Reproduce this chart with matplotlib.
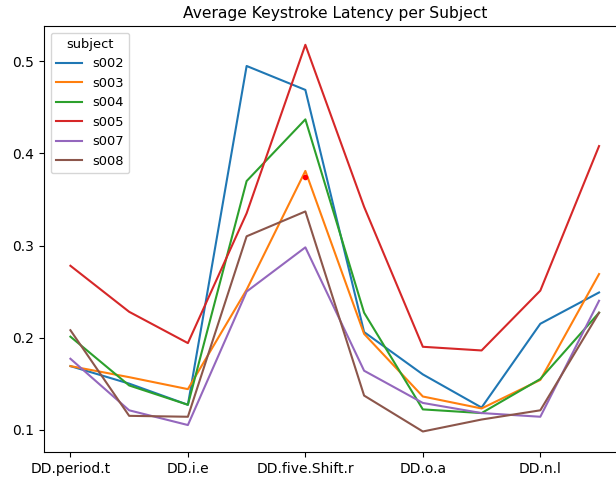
import matplotlib
matplotlib.use("Agg")
import matplotlib.pyplot as plt

features = ["DD.period.t", "DD.t.i", "DD.i.e", "DD.e.five", "DD.five.Shift.r",
            "DD.Shift.r.o", "DD.o.a", "DD.a.n", "DD.n.l", "DD.l.Return"]
tick_labels = ["DD.period.t", "DD.i.e", "DD.five.Shift.r", "DD.o.a", "DD.n.l"]

s002 = [0.169, 0.150, 0.127, 0.495, 0.469, 0.206, 0.160, 0.124, 0.215, 0.249]
s003 = [0.169, 0.157, 0.144, 0.252, 0.381, 0.204, 0.136, 0.123, 0.154, 0.269]
s004 = [0.201, 0.148, 0.127, 0.370, 0.437, 0.227, 0.122, 0.118, 0.155, 0.227]
s005 = [0.278, 0.228, 0.194, 0.335, 0.518, 0.342, 0.190, 0.186, 0.251, 0.408]
s007 = [0.177, 0.121, 0.105, 0.250, 0.298, 0.164, 0.129, 0.118, 0.114, 0.240]
s008 = [0.208, 0.115, 0.114, 0.310, 0.337, 0.137, 0.098, 0.111, 0.121, 0.227]

subjects = ["s002", "s003", "s004", "s005", "s007", "s008"]
series = [s002, s003, s004, s005, s007, s008]

highlight_x = ["DD.five.Shift.r"]
highlight_y = [0.374]

fig = plt.figure(figsize=(6.16, 4.8), dpi=100)
ax = fig.add_axes([0.0714, 0.0583, 0.944, 0.8875])

x = list(range(len(features)))
for name, vals in zip(subjects, series):
    ax.plot(x, vals, label=name, linewidth=1.5)

ax.plot([features.index(h) for h in highlight_x], highlight_y, 'o',
        color='red', markersize=3, zorder=5)

ax.set_xticks([features.index(t) for t in tick_labels])
ax.set_xticklabels(tick_labels, fontsize=10)
ax.tick_params(axis='y', labelsize=10)
ax.set_yticks([0.1, 0.2, 0.3, 0.4, 0.5])
ax.set_xlim(-0.45, 9.45)
ax.set_ylim(0.0757, 0.5384)
ax.set_title("Average Keystroke Latency per Subject", fontsize=11.2)
ax.legend(title="subject", loc="upper left", fontsize=9.4, title_fontsize=9.4)

fig.savefig("out.png", dpi=100)
